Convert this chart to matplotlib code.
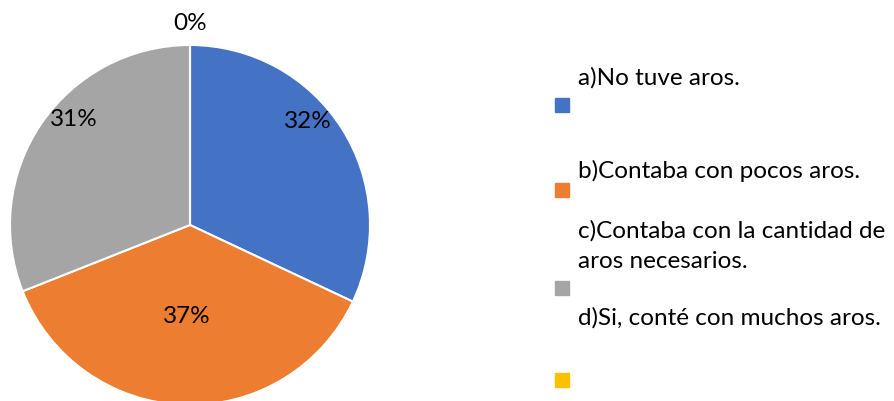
import numpy as np
import matplotlib
matplotlib.use("Agg")
import matplotlib.pyplot as plt
from matplotlib.patches import Rectangle

# answers to the question about the hoops (aros)
labels = ["a)No tuve aros.",
          "b)Contaba con pocos aros.",
          "c)Contaba con la cantidad de\naros necesarios.",
          "d)Si, conté con muchos aros."]
values = [32, 37, 31, 0]
colors = ["#4472C4", "#ED7D31", "#A5A5A5", "#FFC000"]

plt.rcParams['font.family'] = ['Lato', 'DejaVu Sans']

W, H = 894, 401
fig = plt.figure(figsize=(W / 100, H / 100), dpi=100)
ax = fig.add_axes([0, 0, 1, 1])

cx, cy, r = 190, H - 225, 180
wedges, _ = ax.pie(values, colors=colors, startangle=90, counterclock=False,
                   center=(cx, cy), radius=r, frame=True,
                   wedgeprops=dict(edgecolor='white', linewidth=1.5))
ax.set_xlim(0, W)
ax.set_ylim(0, H)
ax.axis('off')

# data labels (excel "best fit" like placement)
dist = [0.87, 0.51, 0.87, 1.12]
shift = [9, 0, -8, 0]
for w, v, d, s in zip(wedges, values, dist, shift):
    mid = np.deg2rad((w.theta1 + w.theta2) / 2 + s)
    ax.text(cx + d * r * np.cos(mid), cy + d * r * np.sin(mid), f"{v}%",
            ha='center', va='center', fontsize=17.5, color='#000000')

# legend drawn by hand: text above each marker
mark_y = [105, 190, 288, 380]
text_y = [78, 171, 246, 318]
for lab, c, my, ty in zip(labels, colors, mark_y, text_y):
    ax.add_patch(Rectangle((555, H - my - 7), 14, 14, color=c))
    ax.text(578, H - ty, lab, ha='left', va='center', fontsize=17.5,
            linespacing=1.55, color='#000000')

fig.savefig("out.png", dpi=100)
